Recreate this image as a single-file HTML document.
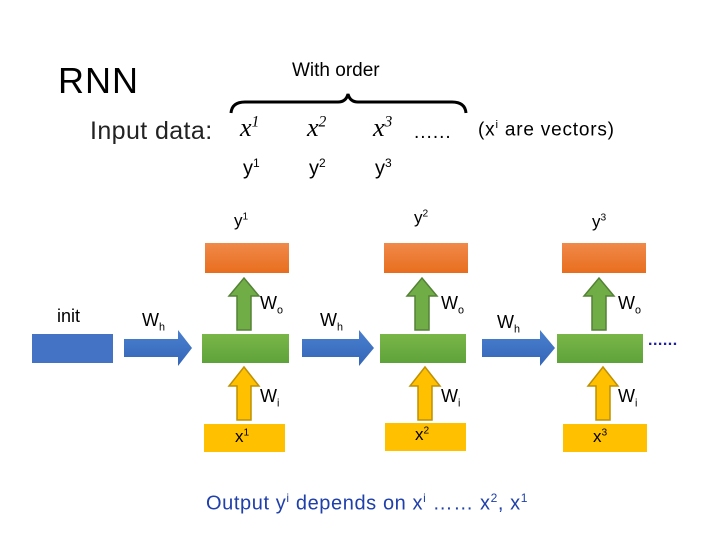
<!DOCTYPE html>
<html><head><style>
body{margin:0;width:720px;height:540px;background:#fff;position:relative;overflow:hidden;font-family:"Liberation Sans",sans-serif;}
.t{position:absolute;white-space:nowrap;color:#000;}
.b{position:absolute;}
sup{font-size:60%;}
</style></head><body>
<div class="t" style="left:58px;top:60px;font-size:36px;letter-spacing:1px;">RNN</div>
<div class="t" style="left:292px;top:60px;font-size:19px;">With order</div>
<svg class="b" style="left:0;top:0" width="720" height="540">
<path d="M231,113 Q232,102 245,102 L338,102 Q346,102 348,94 Q350,102 358,102 L452,102 Q465,102 466,113" fill="none" stroke="#000" stroke-width="3"/>
<defs>
<linearGradient id="o" x1="0" y1="0" x2="0" y2="1"><stop offset="0" stop-color="#f0894a"/><stop offset="1" stop-color="#e86e1e"/></linearGradient>
<linearGradient id="g" x1="0" y1="0" x2="0" y2="1"><stop offset="0" stop-color="#7ab648"/><stop offset="1" stop-color="#5ea33a"/></linearGradient>
<linearGradient id="bl" x1="0" y1="0" x2="0" y2="1"><stop offset="0" stop-color="#4a7fcf"/><stop offset="1" stop-color="#3466b8"/></linearGradient>
</defs>
<rect x="32" y="334" width="81" height="29" fill="#4472c4"/>
<g fill="url(#g)">
<rect x="202" y="334" width="87" height="29"/><rect x="380" y="334" width="86" height="29"/><rect x="557" y="334" width="86" height="29"/>
</g>
<g fill="url(#o)">
<rect x="205" y="243" width="84" height="30"/><rect x="384" y="243" width="84" height="30"/><rect x="562" y="243" width="84" height="30"/>
</g>
<g fill="#ffc000">
<rect x="204" y="424" width="81" height="28"/><rect x="385" y="423" width="81" height="28"/><rect x="563" y="424" width="84" height="28"/>
</g>
<g fill="url(#bl)">
<polygon points="124,339 178,339 178,330 192,348 178,366 178,357 124,357"/>
<polygon points="302,339 359,339 359,330 374,348 359,366 359,357 302,357"/>
<polygon points="482,339 540,339 540,330 555,348 540,366 540,357 482,357"/>
</g>
<g fill="#70ad47" stroke="#548235" stroke-width="1.5">
<polygon points="237,330 251,330 251,296 259,296 244,278 229,296 237,296"/>
<polygon points="415,330 429,330 429,296 437,296 422,278 407,296 415,296"/>
<polygon points="592,330 606,330 606,296 614,296 599,278 584,296 592,296"/>
</g>
<g fill="#ffc000" stroke="#bf9000" stroke-width="1.5">
<polygon points="237,420 251,420 251,386 259,386 244,367 229,386 237,386"/>
<polygon points="418,420 432,420 432,386 440,386 425,367 410,386 418,386"/>
<polygon points="596,420 610,420 610,386 618,386 603,367 588,386 596,386"/>
</g>
</svg>
<div class="t" style="left:90px;top:117px;font-size:25px;color:#222;letter-spacing:0.4px;">Input data:</div>
<div class="t" style="left:240px;top:113px;font-size:26px;font-family:'Liberation Serif',serif;font-style:italic;">x<sup>1</sup></div>
<div class="t" style="left:307px;top:113px;font-size:26px;font-family:'Liberation Serif',serif;font-style:italic;">x<sup>2</sup></div>
<div class="t" style="left:373px;top:113px;font-size:26px;font-family:'Liberation Serif',serif;font-style:italic;">x<sup>3</sup></div>
<div class="t" style="left:414px;top:122px;font-size:19px;letter-spacing:1px;">......</div>
<div class="t" style="left:478px;top:119px;font-size:19px;letter-spacing:0.8px;">(x<sup>i</sup> are vectors)</div>
<div class="t" style="left:243px;top:156px;font-size:20px;">y<sup>1</sup></div>
<div class="t" style="left:309px;top:156px;font-size:20px;">y<sup>2</sup></div>
<div class="t" style="left:375px;top:156px;font-size:20px;">y<sup>3</sup></div>
<div class="t" style="left:234px;top:211px;font-size:17px;">y<sup>1</sup></div>
<div class="t" style="left:414px;top:208px;font-size:17px;">y<sup>2</sup></div>
<div class="t" style="left:592px;top:212px;font-size:17px;">y<sup>3</sup></div>
<div class="t" style="left:57px;top:306px;font-size:18px;">init</div>
<div class="t" style="left:142px;top:310px;font-size:18px;">W<sub style="font-size:60%">h</sub></div>
<div class="t" style="left:320px;top:310px;font-size:18px;">W<sub style="font-size:60%">h</sub></div>
<div class="t" style="left:497px;top:312px;font-size:18px;">W<sub style="font-size:60%">h</sub></div>
<div class="t" style="left:260px;top:293px;font-size:18px;">W<sub style="font-size:60%">o</sub></div>
<div class="t" style="left:441px;top:293px;font-size:18px;">W<sub style="font-size:60%">o</sub></div>
<div class="t" style="left:618px;top:293px;font-size:18px;">W<sub style="font-size:60%">o</sub></div>
<div class="t" style="left:260px;top:386px;font-size:18px;">W<sub style="font-size:60%">i</sub></div>
<div class="t" style="left:441px;top:386px;font-size:18px;">W<sub style="font-size:60%">i</sub></div>
<div class="t" style="left:618px;top:386px;font-size:18px;">W<sub style="font-size:60%">i</sub></div>
<div class="t" style="left:648px;top:332px;font-size:16px;color:#1f1fa0;font-weight:bold;letter-spacing:0.5px;">......</div>
<div class="t" style="left:235px;top:427px;font-size:17px;">x<sup>1</sup></div>
<div class="t" style="left:415px;top:425px;font-size:17px;">x<sup>2</sup></div>
<div class="t" style="left:593px;top:427px;font-size:17px;">x<sup>3</sup></div>
<div class="t" style="left:206px;top:491px;font-size:20px;color:#1f3faa;letter-spacing:0.6px;">Output y<sup>i</sup> depends on x<sup>i</sup> …… x<sup>2</sup>, x<sup>1</sup></div>
</body></html>
